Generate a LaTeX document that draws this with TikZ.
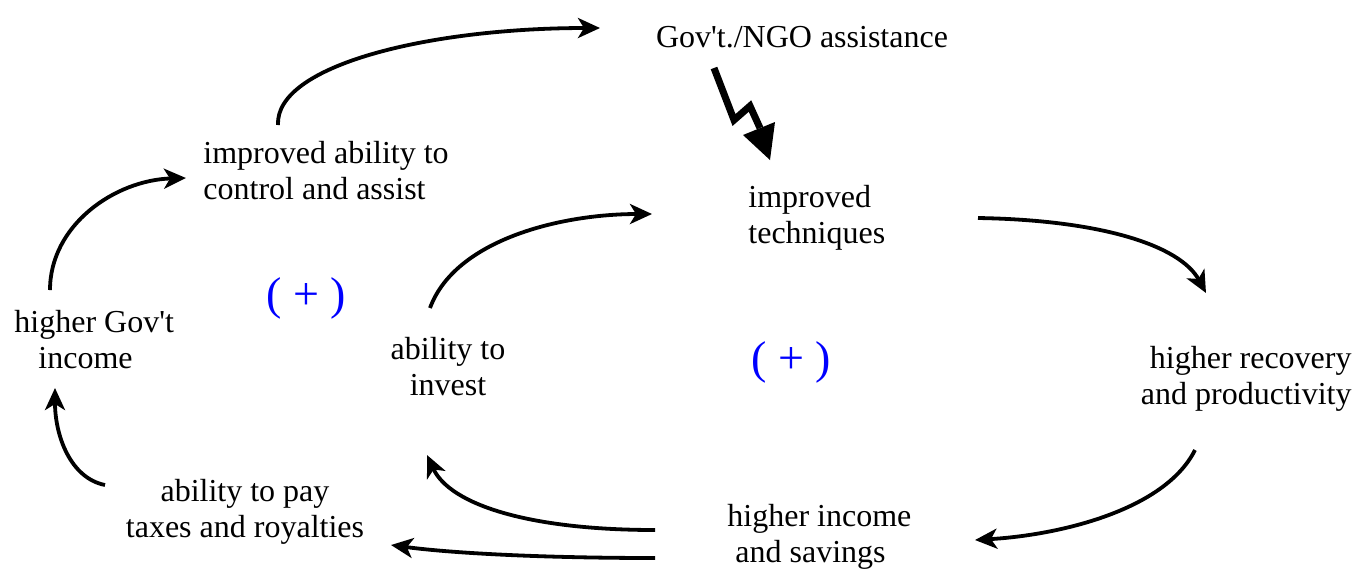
\documentclass[tikz,border=0pt]{standalone}
\usepackage{fontspec}
\setmainfont{Liberation Serif}[Ligatures=TeXOff]
\usetikzlibrary{arrows.meta}
\begin{document}
\begin{tikzpicture}[x=0.5pt,y=-0.5pt,
  lbl/.style={inner sep=0pt,font=\fontsize{16}{18}\selectfont},
  plus/.style={inner sep=0pt,text=blue,font=\fontsize{23}{26}\selectfont},
  link/.style={line width=1.9pt,-{Stealth[length=11pt,width=10pt,inset=3pt]}}]
\useasboundingbox (0,0) rectangle (1356,570);
% labels
\node[lbl] (gov) at (802,37) {Gov't./NGO assistance};
\node[lbl,align=left,anchor=west] (ctrl) at (203,171) {improved ability to\\control and assist};
\node[lbl,align=left,anchor=west] (tech) at (748,218) {improved\\techniques};
\node[lbl,align=left,anchor=west] (ginc) at (14,340) {higher Gov't\\\hspace*{12pt}income};
\node[lbl,align=center] (inv) at (448,367) {ability to\\invest};
\node[lbl,align=right,anchor=east] (rec) at (1352,379) {higher recovery\\and productivity};
\node[lbl,align=center] (tax) at (245,512) {ability to pay\\taxes and royalties};
\node[lbl,align=left,anchor=west] (sav) at (727,537) {higher income\\\hspace*{4pt}and savings};
\node[plus] (p1) at (306,298) {( + )};
\node[plus] (p2) at (791,362) {( + )};
% connector end points
\coordinate (c1s) at (278,125); \coordinate (c1e) at (600,28);
\coordinate (c2s) at (50,290);  \coordinate (c2e) at (186,178);
\coordinate (c3s) at (105,485); \coordinate (c3e) at (55,388);
\coordinate (c4s) at (430,308); \coordinate (c4e) at (652,214);
\coordinate (c5s) at (978,218); \coordinate (c5e) at (1206,293);
\coordinate (c6s) at (1195,450); \coordinate (c6e) at (975,540);
\coordinate (c7s) at (655,530); \coordinate (c7e) at (427,455);
\coordinate (c8s) at (655,558); \coordinate (c8e) at (391,545);
% connectors
\draw[link] (c1s) .. controls (275,65) and (430,28) .. (c1e);
\draw[link] (c2s) .. controls (50,225) and (115,180) .. (c2e);
\draw[link] (c3s) .. controls (70,478) and (55,435) .. (c3e);
\draw[link] (c4s) .. controls (455,240) and (560,214) .. (c4e);
\draw[link] (c5s) .. controls (1100,220) and (1180,245) .. (c5e);
\draw[link] (c6s) .. controls (1165,510) and (1060,535) .. (c6e);
\draw[link] (c7s) .. controls (530,530) and (450,505) .. (c7e);
\draw[link] (c8s) .. controls (540,558) and (450,553) .. (c8e);
% lightning link
\coordinate (l0) at (714,68);
\coordinate (l1) at (734,120);
\coordinate (l2) at (750,106);
\coordinate (l3) at (760,128);
\coordinate (ltip) at (770,160);
\draw[line width=3.5pt,line join=miter] (l0) -- (l1) -- (l2) -- (l3);
\fill (743,135) -- (ltip) -- (775,122) -- cycle;
\end{tikzpicture}
\end{document}
